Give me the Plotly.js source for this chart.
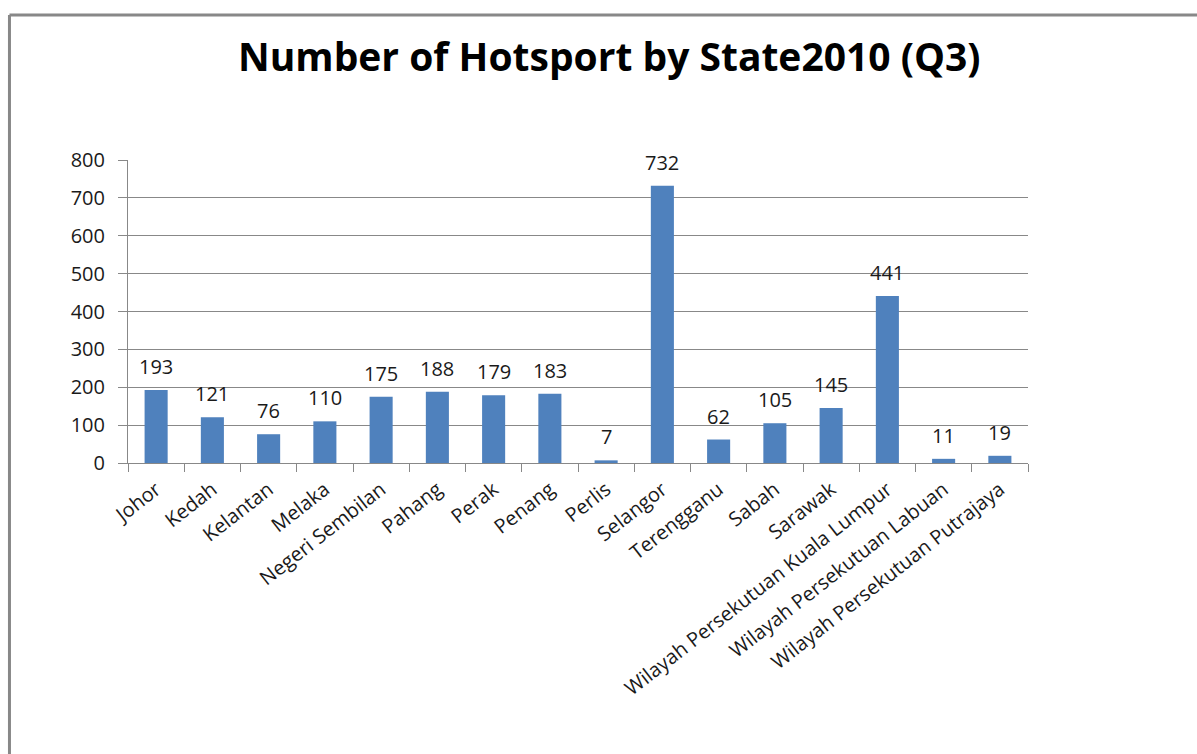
<!DOCTYPE html>
<html>
<head>
<meta charset="utf-8">
<script src="https://cdn.plot.ly/plotly-3.0.1.min.js"></script>
<style>
html, body { margin: 0; padding: 0; background: #ffffff; }
#chart { width: 1197px; height: 754px; }
</style>
</head>
<body>
<div id="chart"></div>
<script>
const states = ["Johor", "Kedah", "Kelantan", "Melaka", "Negeri Sembilan", "Pahang", "Perak", "Penang", "Perlis", "Selangor", "Terengganu", "Sabah", "Sarawak", "Wilayah Persekutuan Kuala Lumpur", "Wilayah Persekutuan Labuan", "Wilayah Persekutuan Putrajaya"];
const hotspots = [193, 121, 76, 110, 175, 188, 179, 183, 7, 732, 62, 105, 145, 441, 11, 19];
const yTicks = [0, 100, 200, 300, 400, 500, 600, 700, 800];
const chartTitle = "Number of Hotsport by State2010 (Q3)";

const FONT = "'Open Sans', 'Liberation Sans', sans-serif";

const trace = {
  type: "bar",
  x: states,
  y: hotspots,
  width: 0.41,
  marker: { color: "#4F81BD", line: { width: 0 } },
  hoverinfo: "x+y"
};

const annotations = states.map((s, i) => ({
  x: s, y: hotspots[i], xref: "x", yref: "y",
  text: String(hotspots[i]),
  showarrow: false, yanchor: "bottom", yshift: 8,
  font: { family: FONT, size: 20, color: "#1a1a1a" }
}));

const layout = {
  width: 1197, height: 754,
  margin: { l: 128, r: 169, t: 160, b: 291 },
  paper_bgcolor: "#ffffff", plot_bgcolor: "#ffffff",
  showlegend: false,
  title: {
    text: "<b>" + chartTitle + "</b>",
    font: { family: FONT, size: 39, color: "#000000" },
    x: 0.509, xref: "container", xanchor: "center",
    y: 0.924, yref: "container", yanchor: "middle"
  },
  xaxis: {
    type: "category",
    range: [-0.5, 15.5],
    tickson: "boundaries",
    ticks: "outside", ticklen: 8, tickcolor: "#888888", tickwidth: 1,
    showline: true, linecolor: "#888888", linewidth: 1,
    showgrid: false,
    tickangle: -38,
    ticklabelstandoff: 6,
    tickfont: { family: FONT, size: 20, color: "#1a1a1a" },
    fixedrange: true
  },
  yaxis: {
    range: [0, 800],
    tickvals: yTicks,
    ticktext: yTicks.map(String),
    ticks: "outside", ticklen: 9, tickcolor: "#888888", tickwidth: 1,
    showline: true, linecolor: "#888888", linewidth: 1,
    showgrid: true, gridcolor: "#888888", gridwidth: 1,
    zeroline: false,
    tickfont: { family: FONT, size: 20, color: "#1a1a1a" },
    ticklabelstandoff: 9,
    fixedrange: true
  },
  annotations: annotations,
  shapes: [
    { type: "line", xref: "paper", yref: "paper", x0: -0.1317, x1: 1.2, y0: 1.4785, y1: 1.4785, line: { color: "#888888", width: 3 } },
    { type: "line", xref: "paper", yref: "paper", x0: -0.1317, x1: -0.1317, y0: 1.4785, y1: -1.0, line: { color: "#888888", width: 3 } }
  ]
};

Plotly.newPlot("chart", [trace], layout, { displayModeBar: false });
</script>
</body>
</html>
